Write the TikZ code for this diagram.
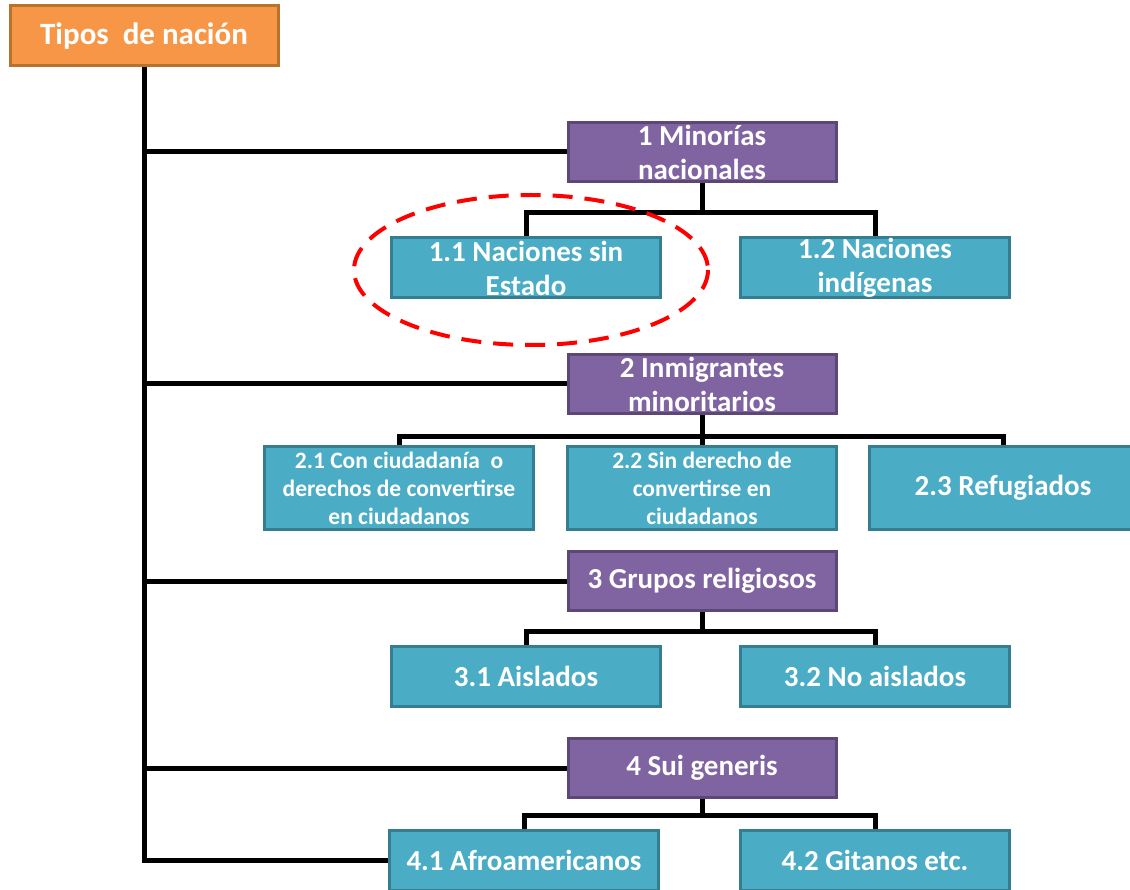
\documentclass[tikz,border=0pt]{standalone}
\usepackage{fontspec}
\setmainfont{Carlito}
\usetikzlibrary{positioning}
\definecolor{rootfill}{HTML}{F79646}
\definecolor{rootline}{HTML}{B9712F}
\definecolor{catfill}{HTML}{8064A2}
\definecolor{catline}{HTML}{5C4776}
\definecolor{subfill}{HTML}{4BACC6}
\definecolor{subline}{HTML}{357E92}

\tikzset{
  box/.style={rectangle, line width=3pt, text=white, align=center,
    font=\fontsize{29}{34}\selectfont\bfseries, inner sep=0pt},
  rootbox/.style={box, fill=rootfill, draw=rootline, minimum width=268pt, minimum height=60pt,
    font=\fontsize{31}{34}\selectfont\bfseries},
  catbox/.style={box, fill=catfill, draw=catline, minimum width=268pt, minimum height=59pt},
  subbox/.style={box, fill=subfill, draw=subline, minimum width=269pt, minimum height=60pt},
  smalltext/.style={font=\fontsize{23.5}{28}\selectfont\bfseries},
  link/.style={line width=5pt, black, line join=miter},
}

\begin{document}
\begin{tikzpicture}[x=1pt,y=-1pt]
  \useasboundingbox (0,0) rectangle (1130,890);

  % root and the four kinds
  \node[rootbox] (root) at (144,36) {Tipos\ \ de nación};
  \node[catbox] (n1) at (702,152) {1 Minorías\\nacionales};
  \node[catbox] (n2) at (702,384) {2 Inmigrantes\\minoritarios};
  \node[catbox] (n3) at (702,581) {3 Grupos religiosos};
  \node[catbox] (n4) at (702,768) {4 Sui generis};

  % sub-kinds
  \node[subbox] (n11) at (526,268) {1.1 Naciones sin\\Estado};
  \node[subbox] (n12) at (875,268) {1.2 Naciones\\indígenas};
  \node[subbox,smalltext,minimum height=83pt] (n21) at (399,488) {2.1 Con ciudadanía\ \ o\\derechos de convertirse\\en ciudadanos};
  \node[subbox,smalltext,minimum height=83pt] (n22) at (702,488) {2.2 Sin derecho de\\convertirse en\\ciudadanos};
  \node[subbox,minimum height=83pt,minimum width=268pt] (n23) at (1003,488) {2.3 Refugiados};
  \node[subbox] (n31) at (526,676) {3.1 Aislados};
  \node[subbox] (n32) at (875,676) {3.2 No aislados};
  \node[subbox] (n41) at (524,860) {4.1 Afroamericanos};
  \node[subbox] (n42) at (875,860) {4.2 Gitanos etc.};

  % trunk
  \draw[link] (root.south) |- (n41.west);
  \draw[link] (root.south |- n1.west) -- (n1.west);
  \draw[link] (root.south |- n2.west) -- (n2.west);
  \draw[link] (root.south |- n3.west) -- (n3.west);
  \draw[link] (root.south |- n4.west) -- (n4.west);

  % branches
  \coordinate (j1) at (702,213);
  \draw[link] (n1.south) -- (j1) -| (n11.north);
  \draw[link] (j1) -| (n12.north);
  \coordinate (j2) at (702,437);
  \draw[link] (n2.south) -- (n22.north);
  \draw[link] (j2) -| (n21.north);
  \draw[link] (j2) -| (n23.north);
  \coordinate (j3) at (702,631);
  \draw[link] (n3.south) -- (j3) -| (n31.north);
  \draw[link] (j3) -| (n32.north);
  \coordinate (j4) at (702,815);
  \draw[link] (n4.south) -- (j4) -| (n41.north);
  \draw[link] (j4) -| (n42.north);

  % highlight
  \draw[red, line width=4pt, dash pattern=on 20pt off 12pt] (531,270) ellipse [x radius=177, y radius=75];
\end{tikzpicture}
\end{document}
